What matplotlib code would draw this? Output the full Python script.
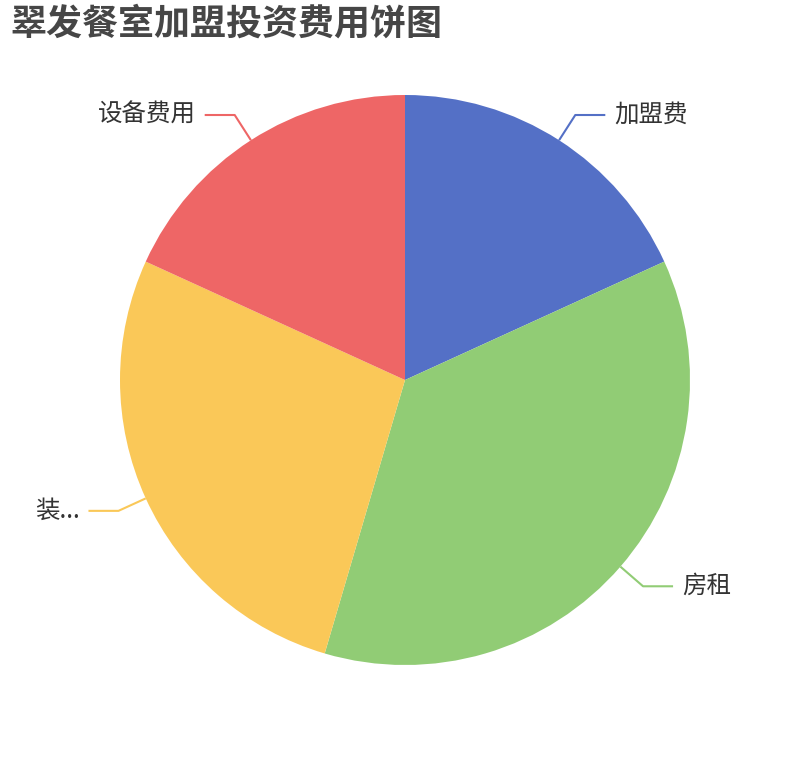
import matplotlib.pyplot as plt
import numpy as np

plt.rcParams['font.family'] = ['Noto Sans CJK SC', 'DejaVu Sans']

# data
names = ['加盟费', '房租', '装...', '设备费用']
values = [20, 40, 30, 20]
colors = ['#5470c6', '#91cc75', '#fac858', '#ee6666']
title = '翠发餐室加盟投资费用饼图'

W, H = 810, 760
cx, cy, R = 405, H - 380, 285

fig = plt.figure(figsize=(W / 100, H / 100), dpi=100)
ax = fig.add_axes([0, 0, 1, 1])

wedges, _ = ax.pie(values, colors=colors, startangle=90, counterclock=False,
                   center=(cx, cy), radius=R, frame=True,
                   wedgeprops=dict(linewidth=0))
ax.set_xlim(0, W)
ax.set_ylim(0, H)
ax.axis('off')

# leader lines + labels
px = 72 / 100
for w, name, c in zip(wedges, names, colors):
    mid = np.deg2rad((w.theta1 + w.theta2) / 2)
    x0, y0 = cx + R * np.cos(mid), cy + R * np.sin(mid)
    x1, y1 = cx + (R + 30) * np.cos(mid), cy + (R + 30) * np.sin(mid)
    side = 1 if np.cos(mid) >= 0 else -1
    x2 = x1 + side * 30
    ax.plot([x0, x1, x2], [y0, y1, y1], color=c, lw=1.5, solid_capstyle='butt')
    ax.text(x2 + side * 9, y1, name, ha='left' if side > 0 else 'right',
            va='center', fontsize=24.5 * px, color='#333333')

fig.text(10 / W, 1 - 24 / H, title, ha='left', va='center',
         fontsize=36 * px, fontweight='heavy', color='#464646')

fig.savefig('out.png', dpi=100)
